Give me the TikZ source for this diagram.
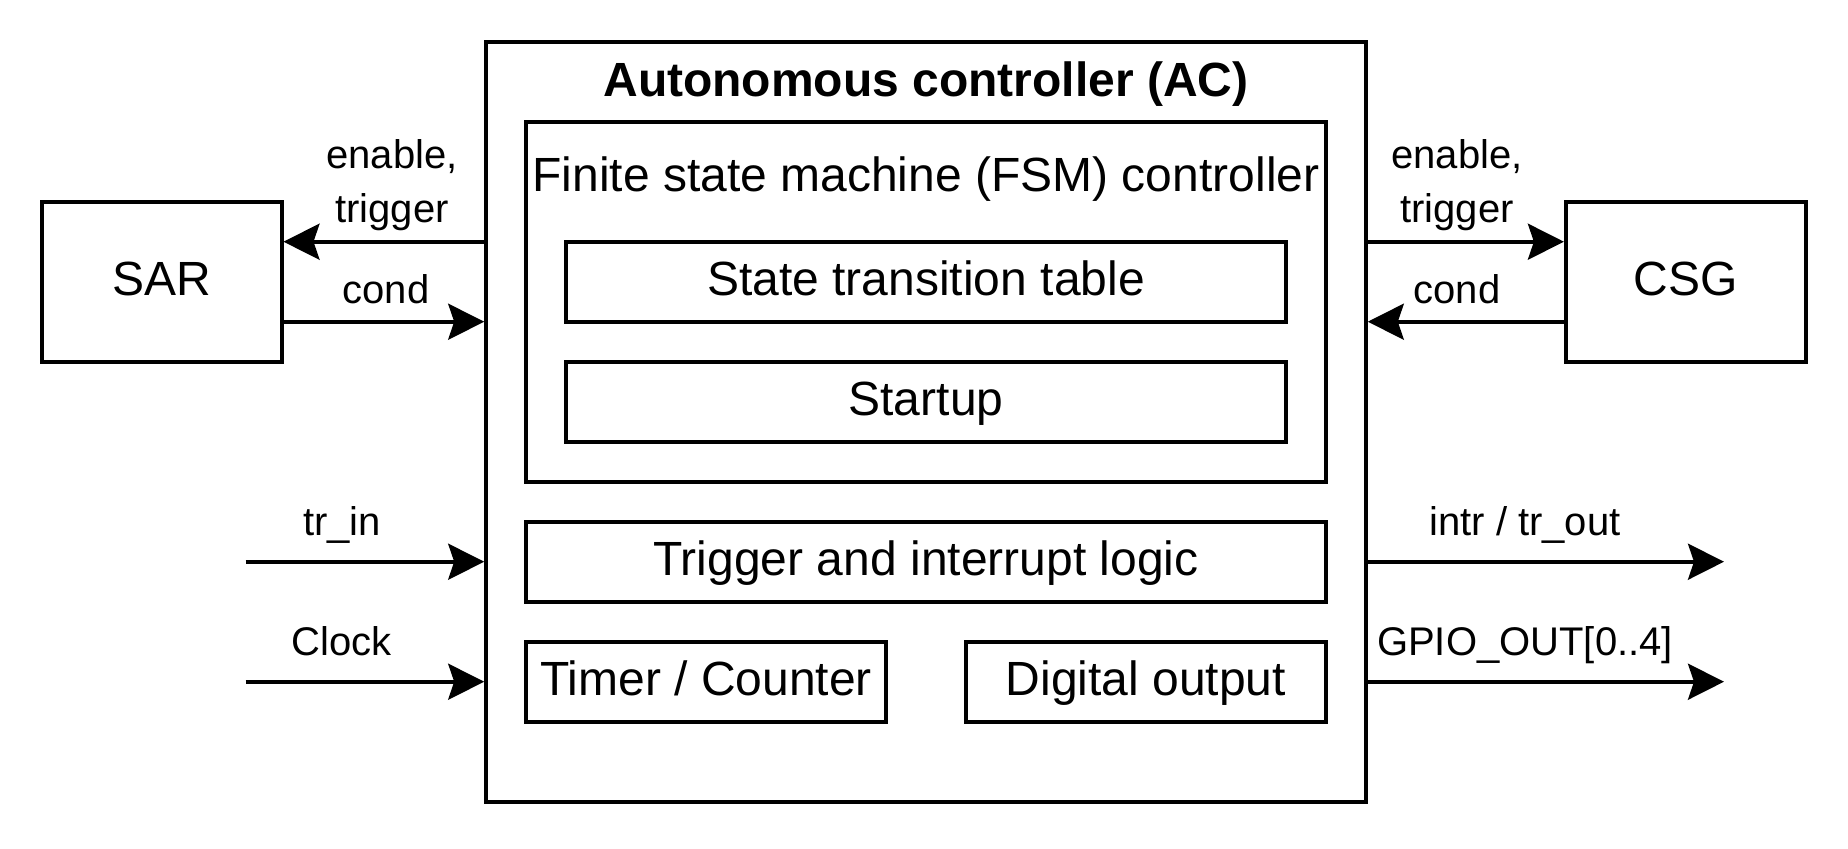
\documentclass[tikz,border=0pt]{standalone}
\usepackage{fontspec}
\setmainfont{Liberation Sans}
\usetikzlibrary{arrows.meta}
\tikzset{
  blk/.style={draw, line width=1.8pt, inner sep=0pt,
    font=\fontsize{24}{28}\selectfont, text height=17.3pt, text depth=3.6pt},
  txt/.style={inner sep=0pt, anchor=base, font=\fontsize{24}{28}\selectfont},
  ttl/.style={txt, font=\bfseries\fontsize{24}{28}\selectfont},
  lbl/.style={inner sep=0pt, anchor=base, align=center, font=\fontsize{20}{27}\selectfont},
  arr/.style={line width=1.8pt, -{Stealth[length=18pt,width=18pt,inset=3pt]}},
}
\begin{document}
\begin{tikzpicture}[x=0.5pt,y=-0.5pt]
      \useasboundingbox (0,0) rectangle (1848,848);
      \node[blk, minimum width=440pt, minimum height=380pt] (ac) at (926,421.7) {};
      \node[ttl] (actitle) at (926,96) {Autonomous controller (AC)};
      \node[blk, minimum width=400pt, minimum height=180pt] (fsm) at (926,301.7) {};
      \node[txt] (fsmtitle) at (926,191.7) {Finite state machine (FSM) controller};
      \node[blk, minimum width=360pt, minimum height=40pt] (stt) at (926,281.7) {State transition table};
      \node[blk, minimum width=360pt, minimum height=40pt] (startup) at (926,401.7) {Startup};
      \node[blk, minimum width=400pt, minimum height=40pt] (trig) at (926,561.7) {Trigger and interrupt logic};
      \node[blk, minimum width=180pt, minimum height=40pt] (timer) at (706,681.7) {Timer / Counter};
      \node[blk, minimum width=180pt, minimum height=40pt] (digout) at (1146,681.7) {Digital output};
      \node[blk, minimum width=120pt, minimum height=80pt] (sar) at (161.7,281.7) {SAR};
      \node[blk, minimum width=120pt, minimum height=80pt] (csg) at (1685.7,281.7) {CSG};
      \coordinate (trin) at (245.7,561.7);
      \coordinate (clk) at (245.7,681.7);
      \coordinate (trout) at (1724,561.7);
      \coordinate (gpio) at (1724,681.7);
      \node[lbl] (sarlbl1) at (392,222) {enable,\\trigger};
      \node[lbl] (sarlbl2) at (386,303) {cond};
      \node[lbl] (csglbl1) at (1457,222) {enable,\\trigger};
      \node[lbl] (csglbl2) at (1457,303) {cond};
      \node[lbl] (trinlbl) at (342,535.7) {tr\_in};
      \node[lbl] (clklbl) at (342,655) {Clock};
      \node[lbl] (troutlbl) at (1525,535) {intr / tr\_out};
      \node[lbl] (gpiolbl) at (1525,655) {GPIO\_OUT[0..4]};
      \begin{scope}[arr]
        \draw ([yshift=20pt]sar.east -| ac.west) to ([yshift=20pt]sar.east);
        \draw ([yshift=-20pt]sar.east) to ([yshift=-20pt]sar.east -| ac.west);
        \draw ([yshift=20pt]csg.west -| ac.east) to ([yshift=20pt]csg.west);
        \draw ([yshift=-20pt]csg.west) to ([yshift=-20pt]csg.west -| ac.east);
        \draw (trin) to (trin -| ac.west);
        \draw (clk) to (clk -| ac.west);
        \draw (trig -| ac.east) to (trout);
        \draw (digout -| ac.east) to (gpio);
      \end{scope}
    \end{tikzpicture}
\end{document}
